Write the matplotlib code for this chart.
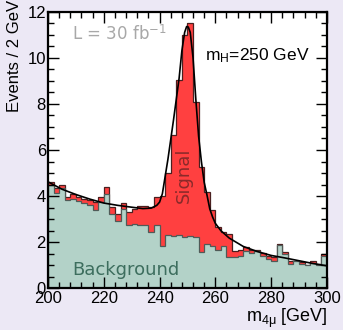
import numpy as np
import matplotlib.pyplot as plt

# binning: 2 GeV bins from 200 to 300 GeV
bin_edges = np.arange(200, 302, 2)

# background (teal) per bin
background = [4.48, 4.12, 4.34, 3.82, 3.89, 3.79, 3.70, 3.60, 3.41, 3.74,
              4.10, 3.24, 2.92, 3.45, 2.77, 2.80, 2.73, 2.73, 2.44, 2.73,
              1.85, 2.33, 2.29, 2.33, 2.25, 2.29, 2.25, 1.56, 1.93, 1.85,
              1.67, 1.85, 1.35, 1.38, 1.42, 1.61, 1.52, 1.61, 1.42, 1.27,
              1.20, 1.90, 1.49, 1.06, 1.17, 1.08, 1.03, 1.12, 1.03, 1.42]

# signal + background (red on top)
total = [4.63, 4.34, 4.49, 3.95, 4.10, 3.96, 3.89, 3.82, 3.74, 3.96,
         4.40, 3.53, 3.24, 3.70, 3.31, 3.45, 3.56, 3.56, 3.53, 3.96,
         4.00, 5.00, 6.65, 9.03, 10.98, 11.49, 8.09, 5.28, 4.20, 3.40,
         2.65, 2.44, 2.36, 1.64, 1.67, 1.81, 1.67, 1.67, 1.52, 1.42,
         1.35, 1.93, 1.56, 1.17, 1.17, 1.13, 1.03, 1.20, 1.06, 1.49]

# fitted curve
fit_x = [200, 205, 210, 215, 220, 225, 230, 234, 237, 239, 240, 241, 242,
         243, 244, 245, 246, 247, 248, 249, 249.7, 250.3, 251, 252, 253,
         254, 255, 256, 257, 258, 259, 260, 262, 265, 270, 275, 280, 285,
         290, 295, 300]
fit_y = [4.62, 4.30, 4.07, 3.87, 3.70, 3.60, 3.52, 3.46, 3.48, 3.60, 3.74,
         4.10, 4.85, 5.60, 6.45, 7.30, 8.20, 9.10, 10.30, 11.10, 11.35,
         11.33, 11.10, 10.00, 8.20, 6.60, 5.50, 4.60, 4.05, 3.45, 3.10,
         2.82, 2.50, 2.18, 1.82, 1.60, 1.43, 1.32, 1.20, 1.08, 0.98]

teal = '#b3d2c8'
red = '#ff4040'
bg_col = '#ece8f5'

plt.rcParams['font.family'] = ['Liberation Sans', 'DejaVu Sans']
plt.rcParams['mathtext.fontset'] = 'custom'
plt.rcParams['mathtext.rm'] = 'Liberation Sans'
plt.rcParams['mathtext.it'] = 'Liberation Sans'

fig = plt.figure(figsize=(3.43, 3.30), dpi=100, facecolor=bg_col)
ax = fig.add_axes([0.140, 0.126, 0.813, 0.839])
ax.set_facecolor('white')

ax.stairs(total, bin_edges, fill=True, color=red)
ax.stairs(total, bin_edges, color='#4a2020', lw=0.9)
ax.stairs(background, bin_edges, fill=True, color=teal)
ax.stairs(background, bin_edges, color='#505a57', lw=0.9)
ax.plot(fit_x, fit_y, color='black', lw=1.2)

ax.set_xlim(200, 300)
ax.set_ylim(0, 12)
ax.set_xticks(np.arange(200, 301, 20))
ax.set_xticks(np.arange(200, 301, 4), minor=True)
ax.set_yticks(np.arange(0, 13, 2))
ax.set_yticks(np.arange(0, 12.1, 0.5), minor=True)
ax.tick_params(which='both', direction='in', top=True, right=True,
               labelsize=12, width=1.0)
ax.tick_params(which='major', length=8, pad=1.5)
ax.tick_params(which='minor', length=4)
ax.tick_params(axis='x', pad=2)
for s in ax.spines.values():
    s.set_linewidth(1.6)

ax.text(208.5, 10.77, r'L = 30 fb$^{\mathregular{-1}}$', color='#a8a8a8',
        fontsize=12, family='DejaVu Sans')
ax.text(256.3, 9.9, r'm$_{\mathregular{H}}$=250 GeV', fontsize=12.5)
ax.text(248.7, 4.9, 'Signal', rotation=90, ha='center', va='center',
        color='#8a2a2a', fontsize=13, family='DejaVu Sans')
ax.text(208.6, 0.58, 'Background', color='#3d6e5e', fontsize=13,
        family='DejaVu Sans', va='baseline')

fig.text(14.5 / 343, 1 - 56 / 330, 'Events / 2 GeV', rotation=90,
         ha='center', va='center', fontsize=12)
fig.text(328 / 343, 1 - 322 / 330, r'm$_{\mathregular{4\mu}}$ [GeV]',
         ha='right', va='baseline', fontsize=13)

fig.savefig('out.png', dpi=100, facecolor=bg_col)
